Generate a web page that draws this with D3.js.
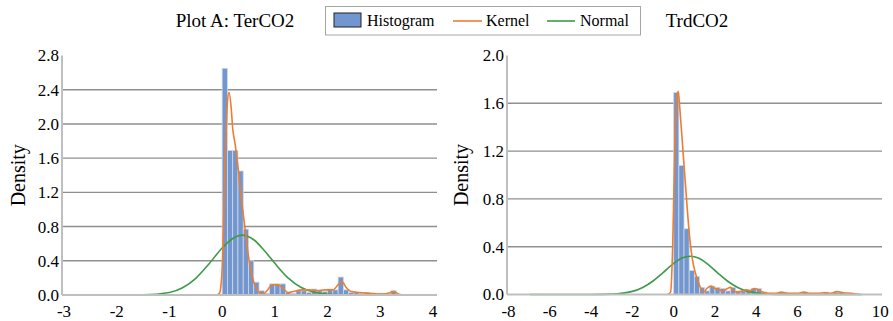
<!DOCTYPE html>
<html>
<head>
<meta charset="utf-8">
<script src="https://cdn.jsdelivr.net/npm/d3@7"></script>
<style>
  body { margin: 0; background: #fff; }
</style>
</head>
<body>
<div id="chart"></div>
<script>
// Plot A: TerCO2 -- histogram bins (start, density), bin width 0.1
var terBinWidth = 0.1;
var terBinStart = [0.0,0.1,0.2,0.3,0.4,0.5,0.6,0.7,0.8,0.9,1.0,1.1,1.2,1.3,1.4,1.5,1.6,1.7,1.8,1.9,2.0,2.1,2.2,2.3,2.4,2.5,2.6,2.7,2.8,2.9,3.0,3.1,3.2,3.3];
var terHist = [2.65,1.69,1.69,1.45,0.77,0.40,0.15,0.05,0.02,0.13,0.13,0.13,0.03,0.02,0.05,0.05,0.03,0.07,0.05,0.04,0.07,0.06,0.21,0.06,0.03,0.03,0.02,0.03,0.02,0.02,0.02,0.01,0.05,0.01];
var terKernelX = [-0.1,-0.05,0,0.05,0.1,0.13,0.17,0.2,0.25,0.3,0.35,0.4,0.45,0.5,0.55,0.6,0.65,0.7,0.78,0.85,0.95,1.05,1.15,1.25,1.35,1.5,1.65,1.8,1.95,2.1,2.2,2.27,2.35,2.45,2.6,2.8,3.0,3.15,3.25,3.35,3.45];
var terKernelY = [0,0.02,0.3,1.4,2.25,2.37,2.2,1.95,1.75,1.5,1.2,0.95,0.7,0.45,0.28,0.15,0.08,0.03,0.01,0.05,0.12,0.12,0.08,0.03,0.04,0.06,0.06,0.05,0.06,0.06,0.12,0.16,0.09,0.04,0.03,0.02,0.01,0.02,0.04,0.01,0];
var terNormalX = [-2.75,-2.0,-1.5,-1.0,-0.75,-0.5,-0.25,0,0.2,0.38,0.6,0.8,1.0,1.25,1.5,1.75,2.0,2.5,3.0,3.5];
var terNormalY = [0,0,0.002,0.03,0.085,0.195,0.363,0.55,0.66,0.70,0.646,0.52,0.37,0.20,0.088,0.032,0.009,0.001,0,0];
var terYTicks = [0.0,0.4,0.8,1.2,1.6,2.0,2.4,2.8];
var terXTicks = [-3,-2,-1,0,1,2,3,4];

// TrdCO2 -- bin width 0.25
var trdBinWidth = 0.25;
var trdBinStart = [0,0.25,0.5,0.75,1.0,1.25,1.5,1.75,2.0,2.25,2.5,2.75,3.0,3.25,3.5,3.75,4.0,4.25,4.5,4.75,5.0,5.25,5.5,5.75,6.0,6.25,6.5,6.75,7.0,7.25,7.5,7.75,8.0,8.25,8.5];
var trdHist = [1.69,1.08,0.55,0.20,0.15,0.06,0.03,0.07,0.06,0.05,0.03,0.06,0.03,0.03,0.04,0.05,0.05,0.02,0.01,0.01,0.02,0.02,0.01,0.01,0.01,0.02,0.01,0.01,0.01,0.02,0.01,0.02,0.02,0.01,0.01];
var trdKernelX = [-0.3,-0.15,-0.05,0.05,0.15,0.22,0.3,0.45,0.6,0.75,0.9,1.05,1.2,1.35,1.45,1.6,1.8,2.0,2.2,2.4,2.6,2.75,2.9,3.1,3.3,3.5,3.7,3.9,4.1,4.3,4.6,5.0,5.2,5.5,6.0,6.3,6.6,7.0,7.3,7.6,7.9,8.2,8.6,9.0];
var trdKernelY = [0,0.02,0.4,1.2,1.65,1.70,1.55,1.2,0.85,0.52,0.3,0.18,0.1,0.04,0.02,0.05,0.07,0.05,0.04,0.03,0.05,0.06,0.03,0.02,0.03,0.04,0.03,0.05,0.04,0.02,0.01,0.01,0.02,0.01,0.01,0.02,0.01,0.01,0.015,0.01,0.025,0.015,0.01,0];
var trdNormalX = [-6.95,-4,-3,-2,-1.5,-1,-0.5,0,0.4,0.8,1.2,1.6,2.1,2.6,3.1,3.6,4.6,5.5,9.1];
var trdNormalY = [0,0,0.003,0.026,0.059,0.113,0.186,0.26,0.305,0.32,0.305,0.26,0.186,0.113,0.059,0.026,0.003,0,0];
var trdYTicks = [0.0,0.4,0.8,1.2,1.6,2.0];
var trdXTicks = [-8,-6,-4,-2,0,2,4,6,8,10];

var W = 893, H = 321;
var FONT = '"Liberation Serif", serif';
var svg = d3.select('#chart').append('svg')
    .attr('width', W).attr('height', H);

var histFill = '#7196d0', histEdge = '#d3d8e2';
var kernelColor = '#ed7d31', normalColor = '#3d9b4a';

function label(sel, size){
    return sel.style('font-family', FONT)
        .style('font-size', size + 'px').attr('fill', '#000');
}

function panel(opts){
    var x = d3.scaleLinear().domain(opts.xDomain).range(opts.xRange);
    var y = d3.scaleLinear().domain(opts.yDomain).range([opts.base, opts.top]);
    var g = svg.append('g');

    // gridlines (skip the top one)
    g.selectAll('line.grid')
        .data(opts.yTicks.filter(function(d){ return d > 0 && d < opts.yDomain[1]; }))
        .enter().append('line')
        .attr('x1', opts.axisX).attr('x2', opts.gridEnd)
        .attr('y1', function(d){ return y(d); }).attr('y2', function(d){ return y(d); })
        .attr('stroke', '#8f8f8f').attr('stroke-width', 1.4);

    // histogram
    var bins = opts.binStart.map(function(s, i){ return {s: s, v: opts.hist[i]}; });
    g.selectAll('rect.bar').data(bins).enter().append('rect')
        .attr('x', function(d){ return x(d.s); })
        .attr('width', function(d){ return x(d.s + opts.binWidth) - x(d.s); })
        .attr('y', function(d){ return y(d.v); })
        .attr('height', function(d){ return opts.base - y(d.v); })
        .attr('fill', histFill)
        .attr('stroke', histEdge).attr('stroke-width', 0.8);

    var line = d3.line()
        .x(function(d){ return x(d[0]); })
        .y(function(d){ return y(d[1]); })
        .curve(d3.curveMonotoneX);

    g.append('path')
        .datum(d3.zip(opts.normalX, opts.normalY))
        .attr('d', line).attr('fill', 'none')
        .attr('stroke', normalColor).attr('stroke-width', 1.6);

    g.append('path')
        .datum(d3.zip(opts.kernelX, opts.kernelY))
        .attr('d', line).attr('fill', 'none')
        .attr('stroke', kernelColor).attr('stroke-width', 1.6);

    // axes lines
    g.append('line')
        .attr('x1', opts.axisX).attr('x2', opts.axisX)
        .attr('y1', opts.top).attr('y2', opts.base)
        .attr('stroke', '#bfbfbf').attr('stroke-width', 2);
    g.append('line')
        .attr('x1', opts.axisX).attr('x2', opts.gridEnd)
        .attr('y1', opts.base).attr('y2', opts.base)
        .attr('stroke', '#bfbfbf').attr('stroke-width', 2);

    // y tick labels
    label(g.selectAll('text.yt').data(opts.yTicks).enter().append('text'), 17)
        .attr('x', opts.axisX - 3).attr('y', function(d){ return y(d); })
        .attr('dy', '0.35em').attr('text-anchor', 'end')
        .text(function(d){ return d3.format('.1f')(d); });

    // x tick labels
    label(g.selectAll('text.xt').data(opts.xTicks).enter().append('text'), 17)
        .attr('x', function(d){ return x(d); }).attr('y', 317)
        .attr('text-anchor', 'middle')
        .text(function(d){ return d; });

    // y title
    label(g.append('text'), 20)
        .attr('transform', 'translate(' + opts.yTitleX + ',' + ((opts.top + opts.base) / 2) + ') rotate(-90)')
        .attr('text-anchor', 'middle').attr('dy', '0.35em')
        .text('Density');

    // title
    label(svg.append('text'), 19)
        .attr('x', opts.titleX).attr('y', 27)
        .attr('text-anchor', 'middle')
        .text(opts.title);
}

panel({
    xDomain: [-3, 4], xRange: [64, 433], yDomain: [0, 2.8],
    base: 295, top: 55.5, axisX: 62, gridEnd: 437,
    yTicks: terYTicks, xTicks: terXTicks,
    binStart: terBinStart, hist: terHist, binWidth: terBinWidth,
    kernelX: terKernelX, kernelY: terKernelY,
    normalX: terNormalX, normalY: terNormalY,
    yTitleX: 18, titleX: 235, title: 'Plot A: TerCO2'
});

panel({
    xDomain: [-8, 10], xRange: [508.5, 880.2], yDomain: [0, 2.0],
    base: 294.5, top: 55.5, axisX: 507, gridEnd: 882,
    yTicks: trdYTicks, xTicks: trdXTicks,
    binStart: trdBinStart, hist: trdHist, binWidth: trdBinWidth,
    kernelX: trdKernelX, kernelY: trdKernelY,
    normalX: trdNormalX, normalY: trdNormalY,
    yTitleX: 461, titleX: 697, title: 'TrdCO2'
});

// legend
var legend = svg.append('g');
legend.append('rect')
    .attr('x', 325.5).attr('y', 6.5).attr('width', 315).attr('height', 28.5)
    .attr('fill', '#fff').attr('stroke', '#a6a6a6').attr('stroke-width', 1);
legend.append('rect')
    .attr('x', 334).attr('y', 13).attr('width', 27).attr('height', 14)
    .attr('fill', histFill).attr('stroke', '#222').attr('stroke-width', 1);
label(legend.append('text'), 16).attr('x', 367).attr('y', 26).text('Histogram');
legend.append('line').attr('x1', 453).attr('x2', 482).attr('y1', 21).attr('y2', 21)
    .attr('stroke', kernelColor).attr('stroke-width', 1.6);
label(legend.append('text'), 16).attr('x', 486).attr('y', 26).text('Kernel');
legend.append('line').attr('x1', 547).attr('x2', 575).attr('y1', 21).attr('y2', 21)
    .attr('stroke', normalColor).attr('stroke-width', 1.6);
label(legend.append('text'), 16).attr('x', 580).attr('y', 26).text('Normal');
</script>
</body>
</html>
